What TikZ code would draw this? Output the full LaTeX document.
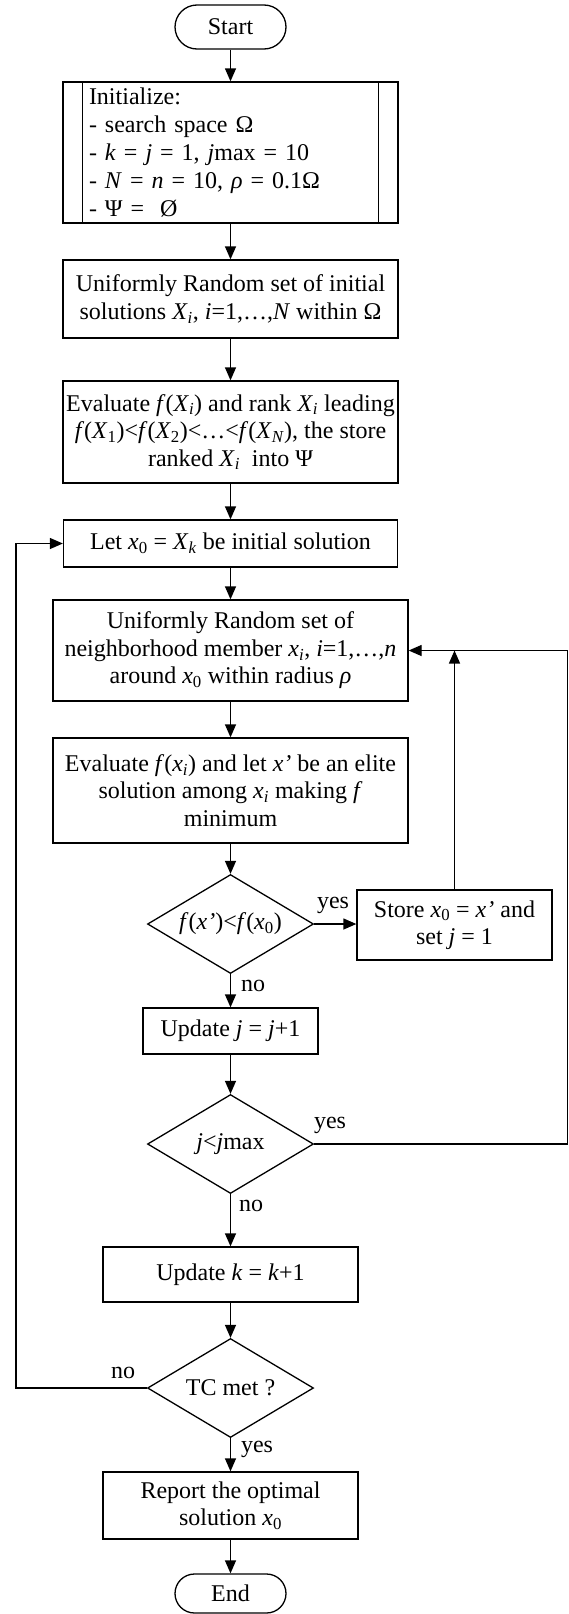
\documentclass[tikz,border=0pt]{standalone}
\usepackage{fontspec}
\setmainfont{Liberation Serif}
\usetikzlibrary{arrows.meta,shapes.geometric,shapes.misc}
\newcommand\vi[1]{\textit{#1}}
\newcommand\sbi[1]{\textsubscript{\textit{#1}}}
\newcommand\sbr[1]{\textsubscript{#1}}
\begin{document}
\begin{tikzpicture}[x=1pt,y=-1pt,line width=1.3pt,
  every node/.style={font=\fontsize{24}{27.5}\selectfont},
  box/.style={draw,rectangle,align=center,inner sep=0pt},
  term/.style={draw,rounded rectangle,inner sep=0pt,minimum width=111pt},
  dec/.style={draw,diamond,aspect=1.68,inner sep=0pt,minimum width=166pt,minimum height=99pt},
  arr/.style={-{Triangle[length=13pt,width=11pt]}},
  lab/.style={inner sep=0pt}]
\useasboundingbox (0,0) rectangle (568,1614);
\node[term,minimum height=44pt] (start) at (230.5,27) {Start};
\node[box,minimum height=141pt,text width=283pt,inner xsep=26pt,align=left,
  font=\fontsize{24}{28.2}\selectfont] (init) at (230.5,152.5)
  {Initialize:\\
   - search space Ω\\
   - \vi{k} = \vi{j} = 1, \vi{j}max = 10\\
   - \vi{N} = \vi{n} = 10, \vi{ρ} = 0.1Ω\\
   - Ψ =\ \ Ø};
\draw ([xshift=20pt]init.north west) -- ([xshift=20pt]init.south west);
\draw ([xshift=-20pt]init.north east) -- ([xshift=-20pt]init.south east);
\node[box,minimum width=335pt,minimum height=78pt] (rand) at (230.5,299)
  {Uniformly Random set of initial\\solutions \vi{X}\sbi{i}, \vi{i}=1,…,\vi{N} within Ω};
\node[box,minimum width=335pt,minimum height=102pt] (eval) at (230.5,432)
  {Evaluate \vi{f}(\vi{X}\sbi{i}) and rank \vi{X}\sbi{i} leading\\
   \vi{f}(\vi{X}\sbr{1})<\vi{f}(\vi{X}\sbr{2})<…<\vi{f}(\vi{X}\sbi{N}), the store\\
   ranked \vi{X}\sbi{i}\ \ into Ψ};
\node[box,minimum width=334pt,minimum height=47pt] (let) at (230.5,543.5)
  {Let \vi{x}\sbr{0} = \vi{X}\sbi{k} be initial solution};
\node[box,minimum width=355pt,minimum height=101pt] (nb) at (230.5,650.5)
  {Uniformly Random set of\\neighborhood member \vi{x}\sbi{i}, \vi{i}=1,…,\vi{n}\\around \vi{x}\sbr{0} within radius \vi{ρ}};
\node[box,minimum width=355pt,minimum height=105pt] (elite) at (230.5,790.5)
  {Evaluate \vi{f}(\vi{x}\sbi{i}) and let \vi{x’} be an elite\\solution among \vi{x}\sbi{i} making \vi{f}\\minimum};
\node[dec] (d1) at (230.5,924) {\vi{f}(\vi{x’})<\vi{f}(\vi{x}\sbr{0})};
\node[box,minimum width=195pt,minimum height=70pt] (store) at (454.5,925)
  {Store \vi{x}\sbr{0} = \vi{x’} and\\set \vi{j} = 1};
\node[box,minimum width=175pt,minimum height=46pt] (updj) at (230.5,1031)
  {Update \vi{j} = \vi{j}+1};
\node[dec] (d2) at (230.5,1144) {\vi{j}<\vi{j}max};
\node[box,minimum width=255pt,minimum height=55pt] (updk) at (230.5,1274.5)
  {Update \vi{k} = \vi{k}+1};
\node[dec] (d3) at (230.5,1388) {TC met ?};
\node[box,minimum width=255pt,minimum height=67pt] (rep) at (230.5,1505.5)
  {Report the optimal\\solution \vi{x}\sbr{0}};
\node[term,minimum height=39pt] (stop) at (230.5,1593.5) {End};
\node[lab] (y1) at (333,905) {yes};
\node[lab] (n1) at (253,986) {no};
\node[lab] (y2) at (330,1125) {yes};
\node[lab] (n2) at (251,1206) {no};
\node[lab] (n3) at (123,1373) {no};
\node[lab] (y3) at (257,1449) {yes};
\coordinate (R) at (567.3,1144);
\coordinate (L) at (16,1388);
\draw[arr] (start.south) -- (init.north);
\draw[arr] (init.south) -- (rand.north);
\draw[arr] (rand.south) -- (eval.north);
\draw[arr] (eval.south) -- (let.north);
\draw[arr] (let.south) -- (nb.north);
\draw[arr] (nb.south) -- (elite.north);
\draw[arr] (elite.south) -- (d1.north);
\draw[arr] (d1.east) -- (d1.east -| store.west);
\draw[arr] (store.north) -- (store.north |- nb.east);
\draw[arr] (d1.south) -- (updj.north);
\draw[arr] (updj.south) -- (d2.north);
\draw[arr] (d2.east) -- (R) |- (nb.east);
\draw[arr] (d2.south) -- (updk.north);
\draw[arr] (updk.south) -- (d3.north);
\draw[arr] (d3.west) -- (L) |- (let.west);
\draw[arr] (d3.south) -- (rep.north);
\draw[arr] (rep.south) -- (stop.north);
\end{tikzpicture}
\end{document}
